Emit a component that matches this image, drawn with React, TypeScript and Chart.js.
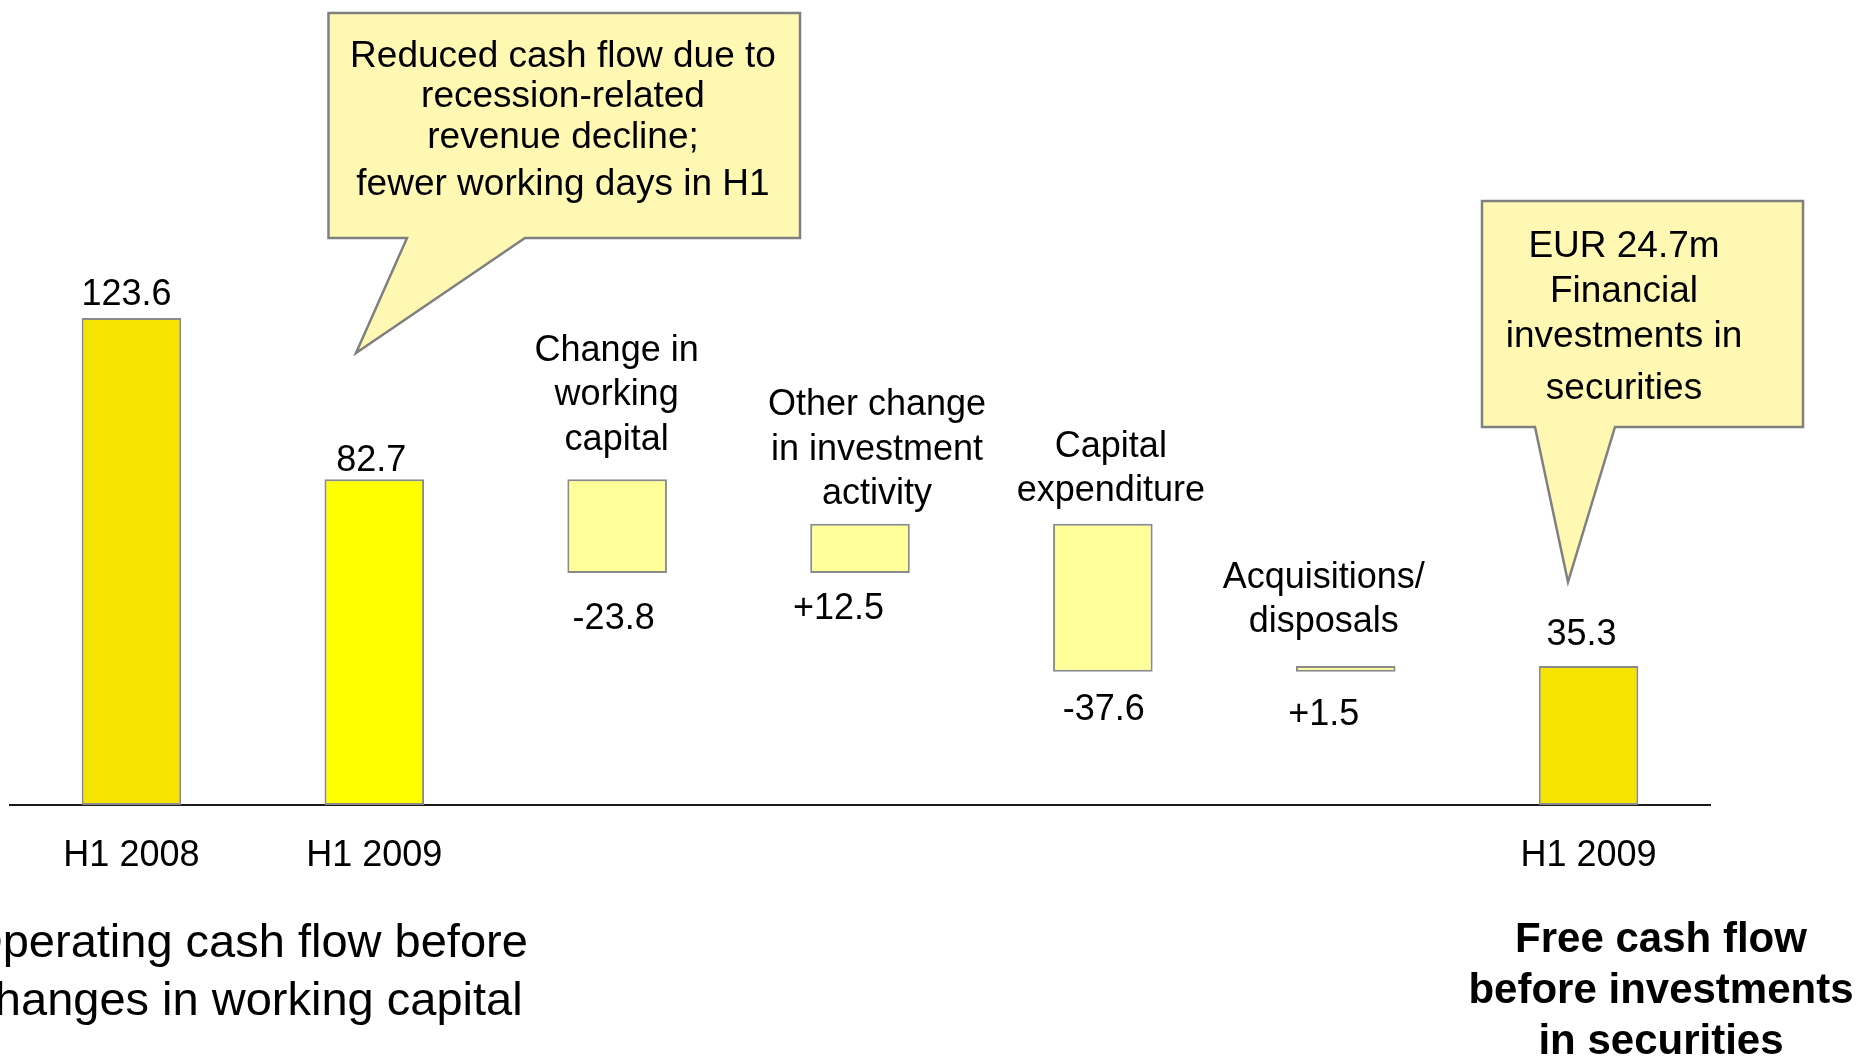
import React, { useEffect, useRef } from 'react';
import { Chart, registerables } from 'chart.js';

Chart.register(...registerables);

// ---------------- data ----------------
const tickLabels = ['H1 2008', 'H1 2009', '', '', '', '', 'H1 2009'];
const openingTotals = [123.6, 82.7]; // operating cash flow before changes in WC
const bridgeDeltas = [-23.8, 12.5, -37.6, 1.5]; // steps from H1 2009 to free cash flow
const closingTotal = 35.3; // free cash flow before investments in securities
const valueLabels = ['123.6', '82.7', '-23.8', '+12.5', '-37.6', '+1.5', '35.3'];
const stepNotes = [
  [],
  [],
  ['Change in', 'working', 'capital'],
  ['Other change', 'in investment', 'activity'],
  ['Capital', 'expenditure'],
  ['Acquisitions/', 'disposals'],
  [],
];
const calloutRevenue = ['Reduced cash flow due to', 'recession-related', 'revenue decline;', 'fewer working days in H1'];
const calloutSecurities = ['EUR 24.7m', 'Financial', 'investments in', 'securities'];
const footLeft = ['Operating cash flow before', 'changes in working capital'];
const footRight = ['Free cash flow', 'before investments', 'in securities'];

// ---------------- styles / layout ----------------
const FAMILY = '"Liberation Sans", Arial, Helvetica, sans-serif';
const barColors = ['#F5E300', '#FFFF00', '#FFFF99', '#FFFF99', '#FFFF99', '#FFFF99', '#F5E300'];
const valueNudge = [[-5, -26.5], [-3, -22], [-3.5, 42.5], [-21.5, 33], [1, 35], [-22, 40], [-7, -34.5]];
const noteNudge = [[0, 0], [0, 0], [-0.5, -43], [17, -33], [8, -36], [-22, -47], [0, 0]];
const MID_SHIFT = 3.5;

export default function App() {
  const ref = useRef<HTMLCanvasElement>(null);

  useEffect(() => {
    const canvas = ref.current;
    if (!canvas) return;

    // floating ranges for the waterfall
    const ranges: [number, number][] = [];
    openingTotals.forEach((v) => ranges.push([0, v]));
    let running = openingTotals[openingTotals.length - 1];
    bridgeDeltas.forEach((d) => {
      const next = running + d;
      ranges.push([Math.min(running, next), Math.max(running, next)]);
      running = next;
    });
    ranges.push([0, closingTotal]);
    const isTotal = ranges.map((_, i) => i < openingTotals.length || i === ranges.length - 1);

    const drawText = (ctx: CanvasRenderingContext2D, t: string, x: number, y: number, size: number, bold = false, baseline: CanvasTextBaseline = 'middle') => {
      ctx.font = `${bold ? 'bold ' : ''}${size}px ${FAMILY}`;
      ctx.fillStyle = '#000';
      ctx.textAlign = 'center';
      ctx.textBaseline = baseline;
      ctx.fillText(t, x, baseline === 'middle' ? y + MID_SHIFT : y);
    };

    const drawCallout = (ctx: CanvasRenderingContext2D, l: number, t: number, r: number, b: number, pl: number, pr: number, tx: number, ty: number) => {
      ctx.save();
      ctx.beginPath();
      ctx.moveTo(l, t);
      ctx.lineTo(r, t);
      ctx.lineTo(r, b);
      ctx.lineTo(pr, b);
      ctx.lineTo(tx, ty);
      ctx.lineTo(pl, b);
      ctx.lineTo(l, b);
      ctx.closePath();
      ctx.fillStyle = '#FFF8B3';
      ctx.fill();
      ctx.lineWidth = 2.5;
      ctx.strokeStyle = '#808080';
      ctx.lineJoin = 'miter';
      ctx.stroke();
      ctx.restore();
    };

    const annotations = {
      id: 'annotations',
      afterDatasetsDraw(chart: any) {
        const ctx: CanvasRenderingContext2D = chart.ctx;
        const meta = chart.getDatasetMeta(0);
        meta.data.forEach((el: any, i: number) => {
          const p = el.getProps(['x', 'y', 'base'], true);
          const top = Math.min(p.y, p.base);
          const bottom = Math.max(p.y, p.base);
          const [dx, dy] = valueNudge[i];
          drawText(ctx, valueLabels[i], p.x + dx, (isTotal[i] ? top : bottom) + dy, 36);
          const notes = stepNotes[i];
          if (notes.length) {
            const [nx, ny] = noteNudge[i];
            const lh = 44.5;
            notes.forEach((n, k) => {
              drawText(ctx, n, p.x + nx, top + ny - (notes.length - 1 - k) * lh, 36);
            });
          }
        });
      },
      afterDraw(chart: any) {
        const ctx: CanvasRenderingContext2D = chart.ctx;
        drawCallout(ctx, 328.5, 13, 800, 238, 407, 525, 356, 353);
        const c1y = [53, 93, 134, 181];
        calloutRevenue.forEach((t, k) => drawText(ctx, t, 563, c1y[k], 37));
        drawCallout(ctx, 1482, 201, 1803, 427, 1535, 1615, 1568, 582);
        const c2y = [243, 288, 333, 385];
        calloutSecurities.forEach((t, k) => drawText(ctx, t, 1624, c2y[k], 37));
        const flY = [957, 1015];
        footLeft.forEach((t, k) => drawText(ctx, t, 247, flY[k], 47, false, 'alphabetic'));
        const frY = [952, 1003, 1054];
        footRight.forEach((t, k) => drawText(ctx, t, 1661, frY[k], 42, true, 'alphabetic'));
      },
    };

    const chart = new Chart(canvas, {
      type: 'bar',
      data: {
        labels: tickLabels,
        datasets: [
          {
            data: ranges as any,
            backgroundColor: barColors,
            borderColor: '#8a8a8a',
            borderWidth: 2,
            borderSkipped: false,
            barPercentage: 0.41,
            categoryPercentage: 1,
          },
        ],
      },
      options: {
        responsive: false,
        animation: false,
        layout: { padding: { left: 10, right: 148, top: 17, bottom: 154 } },
        plugins: { legend: { display: false }, tooltip: { enabled: false } },
        scales: {
          x: {
            grid: { display: false },
            border: { display: true, color: '#1a1a1a', width: 2 },
            ticks: {
              color: '#000',
              font: { family: FAMILY, size: 36 },
              padding: 21,
              maxRotation: 0,
              autoSkip: false,
            },
            afterFit: (s: any) => {
              s.height = 100;
            },
          },
          y: { display: false, min: 0, max: 200 },
        },
      },
      plugins: [annotations],
    });

    return () => chart.destroy();
  }, []);

  return (
    <div style={{ position: 'fixed', left: 0, top: 0, width: 1858, height: 1059, background: '#fff' }}>
      <canvas ref={ref} width={1858} height={1059} style={{ display: 'block', width: 1858, height: 1059 }} />
    </div>
  );
}
